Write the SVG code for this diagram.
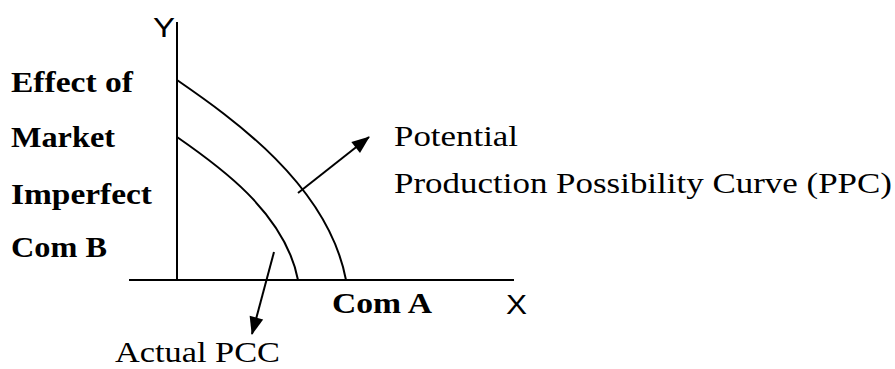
<svg xmlns="http://www.w3.org/2000/svg" width="895" height="369" viewBox="0 0 895 369">
<style>
.ln{fill:none;stroke:#000;stroke-width:2}
.t{font-family:"Liberation Serif","DejaVu Serif",serif;font-size:29px;fill:#000}
.b{font-weight:bold}
.s{font-family:"Liberation Sans",Arial,sans-serif;font-size:27px;fill:#000}
</style>
<defs>
<marker id="ah" viewBox="0 0 10 10" refX="9" refY="5" markerWidth="10" markerHeight="10" markerUnits="userSpaceOnUse" orient="auto" overflow="visible">
<path d="M-8,-2 L10,5 L-8,12 Z" fill="#000"/>
</marker>
</defs>
<g id="axes">
<line class="ln" x1="177" y1="22" x2="177" y2="280"/>
<line class="ln" x1="129" y1="280" x2="514" y2="280"/>
<text class="s" x="153" y="37" textLength="22" lengthAdjust="spacingAndGlyphs">Y</text>
<text class="s" x="506" y="314" textLength="21" lengthAdjust="spacingAndGlyphs">X</text>
</g>
<g id="curves">
<path id="potential-ppc" class="ln" d="M177,80 C232,118 328,185 346,280"/>
<path id="actual-pcc" class="ln" d="M177,137 C216,164 285,212 298,280"/>
</g>
<g id="connectors">
<line class="ln" x1="298" y1="193" x2="369" y2="137" marker-end="url(#ah)"/>
<line class="ln" x1="274" y1="252" x2="252" y2="334" marker-end="url(#ah)"/>
</g>
<g id="labels-left">
<text class="t b" x="11" y="92" textLength="122" lengthAdjust="spacingAndGlyphs">Effect of</text>
<text class="t b" x="11" y="147" textLength="104" lengthAdjust="spacingAndGlyphs">Market</text>
<text class="t b" x="11" y="204" textLength="141" lengthAdjust="spacingAndGlyphs">Imperfect</text>
<text class="t b" x="11" y="257" textLength="96" lengthAdjust="spacingAndGlyphs">Com B</text>
</g>
<g id="label-comA">
<text class="t b" x="332" y="313" textLength="100" lengthAdjust="spacingAndGlyphs">Com A</text>
</g>
<g id="label-potential">
<text class="t" x="394" y="146" textLength="124" lengthAdjust="spacingAndGlyphs">Potential</text>
<text class="t" x="394" y="193" textLength="498" lengthAdjust="spacingAndGlyphs">Production Possibility Curve (PPC)</text>
</g>
<g id="label-actual">
<text class="t" x="115" y="362" textLength="165" lengthAdjust="spacingAndGlyphs">Actual PCC</text>
</g>
</svg>
